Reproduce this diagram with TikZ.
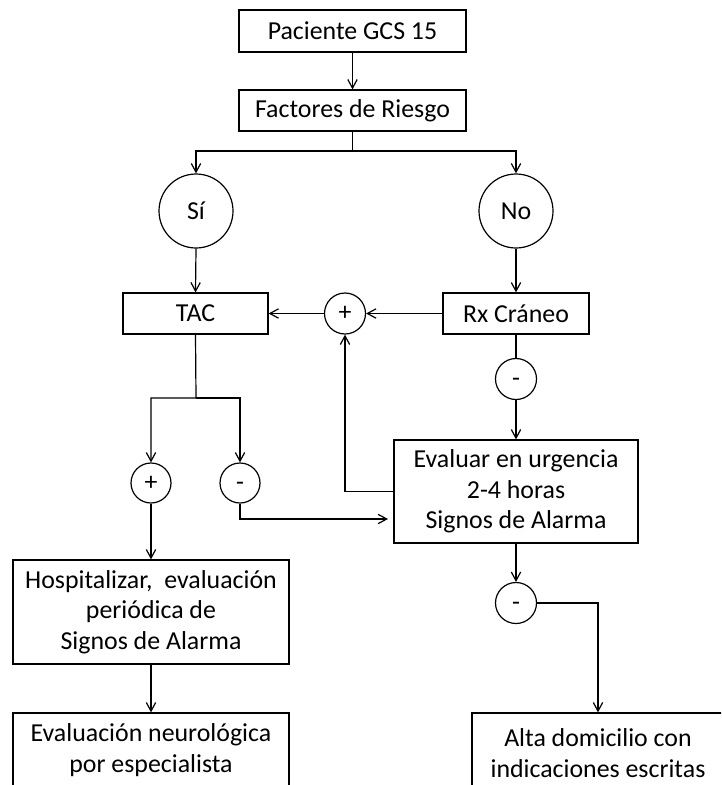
\documentclass[tikz,border=0pt]{standalone}
\usepackage{fontspec}
\setmainfont{Carlito}
\usetikzlibrary{arrows.meta}
\begin{document}
\begin{tikzpicture}[x=0.75pt,y=-0.75pt,
  line width=0.9pt,
  every node/.style={font=\fontsize{19.4}{23}\selectfont, inner sep=0pt},
  box/.style={draw, rectangle, align=center},
  ring/.style={draw, circle, minimum size=#1},
  arr/.style={-{Straight Barb[length=6.5pt,width=7pt]}}
]
\useasboundingbox (0,0) rectangle (721,785);
\clip (0,0) rectangle (721,785);

\node[box, minimum width=170.25pt, minimum height=31.5pt] (pac) at (352.5,31) {Paciente GCS 15};
\node[box, minimum width=170.25pt, minimum height=30.75pt] (fac) at (352.5,110.5) {Factores de Riesgo};
\node[ring=55.5pt] (si) at (196,211) {Sí};
\node[ring=55.5pt] (no) at (516,211) {No};
\node[box, minimum width=108.75pt, minimum height=30.75pt] (tac) at (195.5,313.5) {TAC};
\node[ring=30.75pt] (plus1) at (345,313.5) {+};
\node[box, minimum width=109.5pt, minimum height=30.75pt] (rx) at (516,313.5) {Rx Cráneo};
\node[ring=30.75pt] (minus1) at (516,379) {\vphantom{+}-};
\node[box, minimum width=183pt, minimum height=77.25pt] (eval) at (516,491.5) {Evaluar en urgencia\\2-4 horas\\Signos de Alarma};
\node[ring=30pt] (plus2) at (151,483) {+};
\node[ring=30pt] (minus2) at (240,483) {\vphantom{+}-};
\node[box, minimum width=207pt, minimum height=78pt] (hosp) at (151,612) {Hospitalizar,~ evaluación\\periódica de\\Signos de Alarma};
\node[box, minimum width=207pt, minimum height=55.5pt] (neuro) at (151,750) {Evaluación neurológica\\por especialista};
\node[ring=30.75pt] (minus3) at (516,603) {\vphantom{+}-};
\node[box, minimum width=189pt, minimum height=60pt] (alta) at (598,753) {Alta domicilio con\\indicaciones escritas};

\coordinate (fb) at (352.5,151);
\coordinate (tb) at (196,398);
\coordinate (m2e) at (388,519);

\draw[arr] (pac.south) -- (fac.north);
\draw[arr] (fac.south) -- (fb) -| (si.north);
\draw[arr] (fb) -| (no.north);
\draw[arr] (si.south) -- (tac.north);
\draw[arr] (no.south) -- (rx.north);
\draw[arr] (rx.west) -- (plus1.east);
\draw[arr] (plus1.west) -- (tac.east);
\draw (rx.south) -- (minus1.north);
\draw[arr] (minus1.south) -- (eval.north);
\draw[arr] (eval.west) -| (plus1.south);
\draw[arr] (tac.south) -- (tb) -| (plus2.north);
\draw[arr] (tb) -| (minus2.north);
\draw[arr] (minus2.south) |- (m2e);
\draw[arr] (plus2.south) -- (hosp.north);
\draw[arr] (hosp.south) -- (neuro.north);
\draw[arr] (eval.south) -- (minus3.north);
\draw[arr] (minus3.east) -| (alta.north);
\end{tikzpicture}
\end{document}
